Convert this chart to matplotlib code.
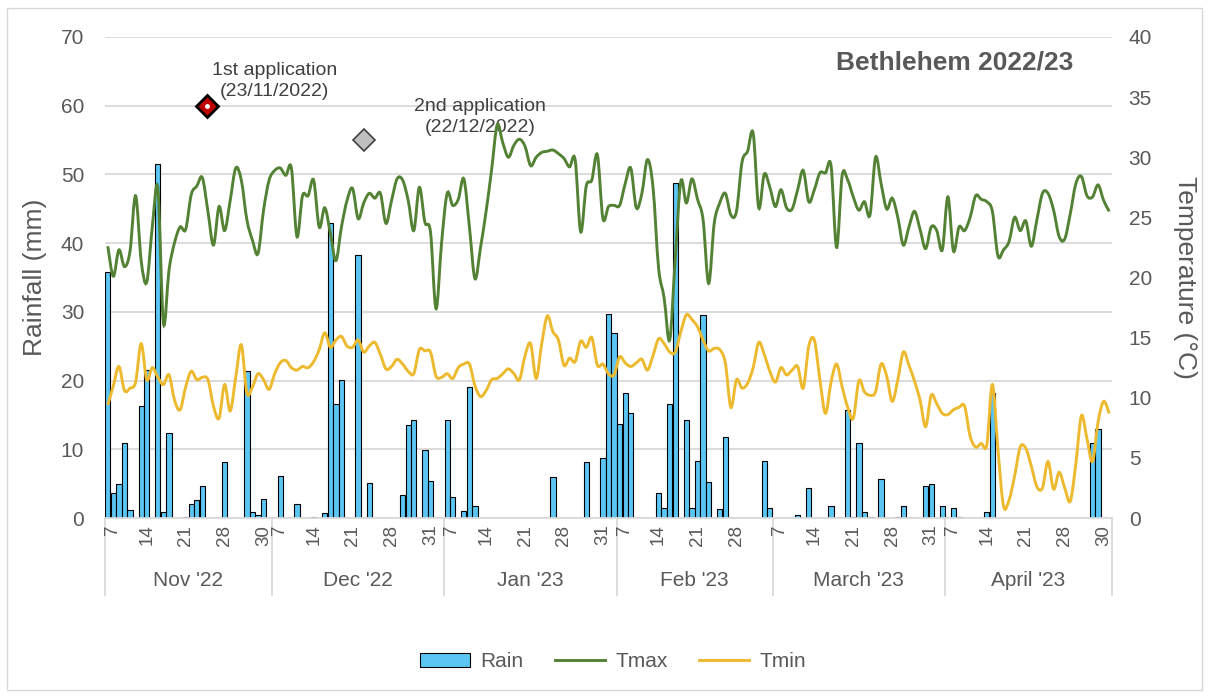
import numpy as np
import matplotlib
matplotlib.use("Agg")
import matplotlib.pyplot as plt
from matplotlib.path import Path
from matplotlib.patches import PathPatch, Patch, Rectangle
from matplotlib.lines import Line2D

plt.rcParams["font.family"] = ["Liberation Sans", "DejaVu Sans"]

months = ["Nov '22", "Dec '22", "Jan '23", "Feb '23", "March '23", "April '23"]
month_days = [30, 31, 31, 28, 31, 30]
day_labels = [
    ["7", "14", "21", "28", "30"],
    ["7", "14", "21", "28", "31"],
    ["7", "14", "21", "28", "31"],
    ["7", "14", "21", "28"],
    ["7", "14", "21", "28", "31"],
    ["7", "14", "21", "28", "30"],
]

# daily rainfall (mm), 1 Nov 2022 - 30 Apr 2023
rain = [
    35.8, 3.6, 4.9, 10.9, 1.1, 0, 16.3, 21.5, 0, 51.5, 0.9, 12.4, 0, 0, 0.2,
    2.0, 2.6, 4.6, 0, 0, 0, 8.2, 0, 0, 0, 21.4, 0.9, 0.5, 2.8, 0,
    0, 6.1, 0, 0, 2.0, 0, 0, 0.2, 0, 0.8, 42.9, 16.6, 20.1, 0, 0, 38.3,
    0, 5.1, 0, 0, 0, 0, 0, 3.3, 13.5, 14.3, 0, 9.9, 5.4, 0, 0,
    14.2, 3.1, 0, 1.0, 19.1, 1.8, 0, 0, 0, 0, 0, 0, 0, 0, 0, 0, 0, 0, 0,
    5.9, 0, 0, 0, 0, 0, 8.1, 0, 0, 8.7, 29.7, 26.9,
    13.7, 18.2, 15.3, 0, 0, 0, 0, 3.6, 1.5, 16.6, 48.8, 0, 14.2, 1.5, 8.3,
    29.5, 5.3, 0, 1.3, 11.8, 0, 0, 0, 0, 0, 0, 8.3, 1.5,
    0, 0, 0, 0, 0.4, 0, 4.4, 0, 0, 0, 1.8, 0, 0, 15.7, 0.2, 10.9, 0.9, 0.2,
    0, 5.7, 0, 0, 0.2, 1.8, 0, 0, 0, 4.6, 4.9, 0, 1.8,
    0, 1.5, 0.1, 0, 0, 0, 0, 0.9, 18.2, 0, 0, 0, 0, 0, 0, 0, 0, 0, 0, 0,
    0, 0, 0, 0, 0, 0, 10.9, 13.0, 0, 0,
]

tmax = [
    22.6, 20.1, 22.3, 20.9, 22.2, 26.8, 21.4, 19.6, 24.2, 27.4, 16.2, 20.6,
    22.9, 24.2, 24.0, 26.9, 27.6, 28.3, 25.5, 22.7, 25.9, 23.9, 26.4, 29.1,
    28.1, 24.8, 23.1, 22.0, 25.6, 28.1,
    28.9, 29.1, 28.5, 29.1, 23.4, 26.8, 26.8, 28.1, 24.2, 25.8, 23.7, 21.4,
    24.2, 26.4, 27.4, 24.9, 26.2, 27.0, 26.6, 27.0, 24.5, 26.4, 28.2, 28.1,
    26.4, 23.9, 27.5, 24.6, 23.8, 17.4, 22.9,
    27.0, 26.0, 26.5, 28.2, 24.2, 19.9, 22.5, 25.5, 29.0, 32.7, 31.2, 30.0,
    31.0, 31.5, 30.9, 29.3, 30.0, 30.4, 30.5, 30.6, 30.3, 29.9, 29.2, 29.8,
    23.8, 27.6, 28.1, 30.2, 24.9, 25.9, 26.0,
    26.0, 27.8, 29.1, 25.8, 27.0, 29.8, 27.5, 20.8, 18.3, 14.8, 21.6, 28.0,
    26.2, 28.2, 26.5, 24.8, 19.5, 24.5, 26.2, 27.0, 25.2, 25.5, 29.6, 30.5,
    32.0, 25.8, 28.6, 27.5,
    25.9, 27.3, 25.8, 25.7, 27.3, 28.9, 26.3, 27.3, 28.7, 28.7, 29.3, 22.5,
    28.5, 28.1, 26.7, 25.6, 26.3, 25.2, 30.0, 27.8, 25.7, 26.6, 25.0, 22.7,
    24.2, 25.5, 24.0, 22.4, 24.2, 23.9, 22.3,
    26.7, 22.2, 24.2, 23.9, 25.0, 26.8, 26.5, 26.3, 25.5, 21.8, 22.3, 23.0,
    25.0, 23.9, 24.7, 22.6, 24.8, 27.0, 27.0, 25.6, 23.4, 23.2, 25.3, 27.8,
    28.4, 26.8, 26.7, 27.7, 26.4, 25.5,
]

tmin = [
    9.4, 11.0, 12.6, 10.6, 10.8, 11.3, 14.5, 11.5, 12.5, 11.7, 11.1, 11.9,
    9.8, 9.0, 10.9, 12.2, 11.5, 11.7, 11.5, 9.3, 8.3, 11.1, 8.9, 11.7, 14.4,
    10.4, 10.9, 12.0, 11.5, 10.7,
    12.0, 12.9, 13.1, 12.5, 12.3, 12.6, 12.5, 13.0, 14.0, 15.4, 14.2, 14.8,
    15.1, 14.3, 14.2, 14.8, 13.8, 14.3, 14.6, 13.6, 12.4, 12.6, 13.2, 12.8,
    12.2, 12.0, 14.0, 13.9, 13.8, 11.8, 11.7,
    12.0, 11.6, 12.5, 12.8, 12.8, 11.0, 10.1, 10.6, 11.5, 11.6, 12.0, 12.4,
    12.0, 11.5, 13.5, 14.5, 11.6, 14.5, 16.8, 15.5, 14.8, 12.7, 13.3, 13.0,
    14.7, 14.2, 15.0, 12.7, 12.8, 12.0, 11.9,
    13.4, 12.9, 12.6, 12.9, 13.2, 12.3, 13.5, 14.9, 14.5, 13.8, 13.8, 15.5,
    16.9, 16.5, 15.9, 14.8, 13.9, 14.1, 14.0, 12.9, 9.2, 11.5, 10.8, 11.2,
    12.5, 14.6, 13.6, 12.2,
    11.3, 12.5, 11.9, 12.3, 12.6, 10.8, 14.3, 14.8, 11.5, 8.7, 11.3, 12.8,
    10.9, 9.2, 8.3, 11.4, 10.5, 10.2, 10.5, 12.8, 11.8, 9.7, 11.5, 13.8,
    12.7, 11.4, 9.8, 7.6, 10.2, 9.5, 8.7,
    8.6, 9.0, 9.2, 9.3, 6.8, 5.9, 6.2, 6.1, 11.1, 5.7, 1.0, 1.5, 3.5, 5.9,
    5.8, 4.3, 2.6, 2.5, 4.7, 2.4, 3.8, 2.5, 1.4, 4.5, 8.5, 6.6, 4.7, 8.0,
    9.7, 8.7,
]

# spray applications (day index, position on rainfall axis)
app_day = [17.8, 46.0]
app_level = [60.0, 55.0]
app_text = ["1st application\n(23/11/2022)", "2nd application\n(22/12/2022)"]

GREY = "#595959"
GRID = "#d9d9d9"
BLUE = "#5BC6F4"
GREEN = "#548235"
GOLD = "#EDB92E"


def smooth_path(xs, ys):
    # bezier curve through the points, like a "smoothed line" in a spreadsheet
    p = np.column_stack([xs, ys]).astype(float)
    ext = np.vstack([p[:1], p, p[-1:]])
    verts = [p[0]]
    codes = [Path.MOVETO]
    for k in range(len(p) - 1):
        c1 = ext[k + 1] + (ext[k + 2] - ext[k]) / 6
        c2 = ext[k + 2] - (ext[k + 3] - ext[k + 1]) / 6
        verts += [c1, c2, p[k + 1]]
        codes += [Path.CURVE4] * 3
    return Path(verts, codes)


days = np.arange(len(rain))
rain = np.array(rain)

fig = plt.figure(figsize=(12.09, 6.98), dpi=100)
ax = fig.add_axes([105 / 1209, 1 - 518 / 698, 1007 / 1209, 481 / 698])
ax2 = ax.twinx()

wet = rain > 0
ax.bar(days[wet], rain[wet], width=0.95, color=BLUE, edgecolor="black", linewidth=0.8)
ax.set_xlim(-0.5, len(rain) - 0.5)
ax.set_ylim(0, 70)
ax.set_yticks(range(0, 71, 10))
ax.yaxis.grid(True, color=GRID, linewidth=1.3)
ax.set_axisbelow(True)
ax.set_xticks([])

ax2.set_ylim(0, 40)
ax2.set_yticks(range(0, 41, 5))
ax2.add_patch(PathPatch(smooth_path(days, tmax), fill=False, edgecolor=GREEN, linewidth=2.1))
ax2.add_patch(PathPatch(smooth_path(days, tmin), fill=False, edgecolor=GOLD, linewidth=2.1))

for a in (ax, ax2):
    for s in a.spines.values():
        s.set_visible(False)
ax.spines["bottom"].set_visible(True)
ax.spines["bottom"].set_color(GRID)
ax.spines["bottom"].set_linewidth(1.3)

ax.tick_params(axis="y", length=0, pad=15, labelsize=15, labelcolor=GREY)
ax2.tick_params(axis="y", length=0, pad=12, labelsize=15, labelcolor=GREY)

ax.set_ylabel("Rainfall (mm)", fontsize=19, color=GREY)
ax.yaxis.label.set_va("center")
ax.yaxis.set_label_coords(-0.0695, 0.5)
ax2.set_ylabel("Temperature (°C)", fontsize=19, color=GREY, rotation=270)
ax2.yaxis.label.set_va("center")
ax2.yaxis.set_label_coords(1.0725, 0.5)

# two-level category axis: day numbers and months
xt = ax.get_xaxis_transform()
start = 0
bounds = [0]
for name, n, labels in zip(months, month_days, day_labels):
    for k, lab in enumerate(labels):
        shift = 0.8 if k == 0 else 0
        ax.text(start + 7 * k + shift, -0.014, lab, rotation=90, ha="center",
                va="top", transform=xt, fontsize=13.5, color=GREY)
    ax.text(start + n / 2 - 0.5, -0.129, name, ha="center", va="center",
            transform=xt, fontsize=15, color=GREY)
    start += n
    bounds.append(start)
for b in bounds:
    ax.plot([b - 0.5, b - 0.5], [0, -0.16], transform=xt, color=GRID,
            linewidth=1.3, clip_on=False)

# application markers
ax.plot(app_day[0], app_level[0], marker="D", ms=11, mfc="#C00000", mec="black",
        mew=2, clip_on=False, zorder=5)
ax.plot(app_day[0], app_level[0], marker="o", ms=2.5, color="white", zorder=6)
ax.plot(app_day[1], app_level[1], marker="D", ms=11, mfc="#BFBFBF", mec="#404040",
        mew=1.2, zorder=5)
ax.text(29.9, 63.6, app_text[0], ha="center", va="center", fontsize=14,
        color="#404040", linespacing=1.3)
ax.text(66.9, 58.3, app_text[1], ha="center", va="center", fontsize=14,
        color="#404040", linespacing=1.3)

ax.text(0.844, 0.946, "Bethlehem 2022/23", transform=ax.transAxes, ha="center",
        va="center", fontsize=19, fontweight="bold", color=GREY)

handles = [
    Patch(facecolor=BLUE, edgecolor="black", linewidth=0.8),
    Line2D([], [], color=GREEN, linewidth=2.1),
    Line2D([], [], color=GOLD, linewidth=2.1),
]
leg = fig.legend(handles, ["Rain", "Tmax", "Tmin"], loc="center",
                 bbox_to_anchor=(0.507, 0.052), ncol=3, frameon=False,
                 fontsize=15, handlelength=2.4, columnspacing=1.5,
                 handletextpad=0.5)
for t in leg.get_texts():
    t.set_color(GREY)

fig.patches.append(Rectangle((0.006, 0.011), 0.988, 0.978, transform=fig.transFigure,
                             fill=False, edgecolor=GRID, linewidth=1))

fig.savefig("out.png", dpi=100)
